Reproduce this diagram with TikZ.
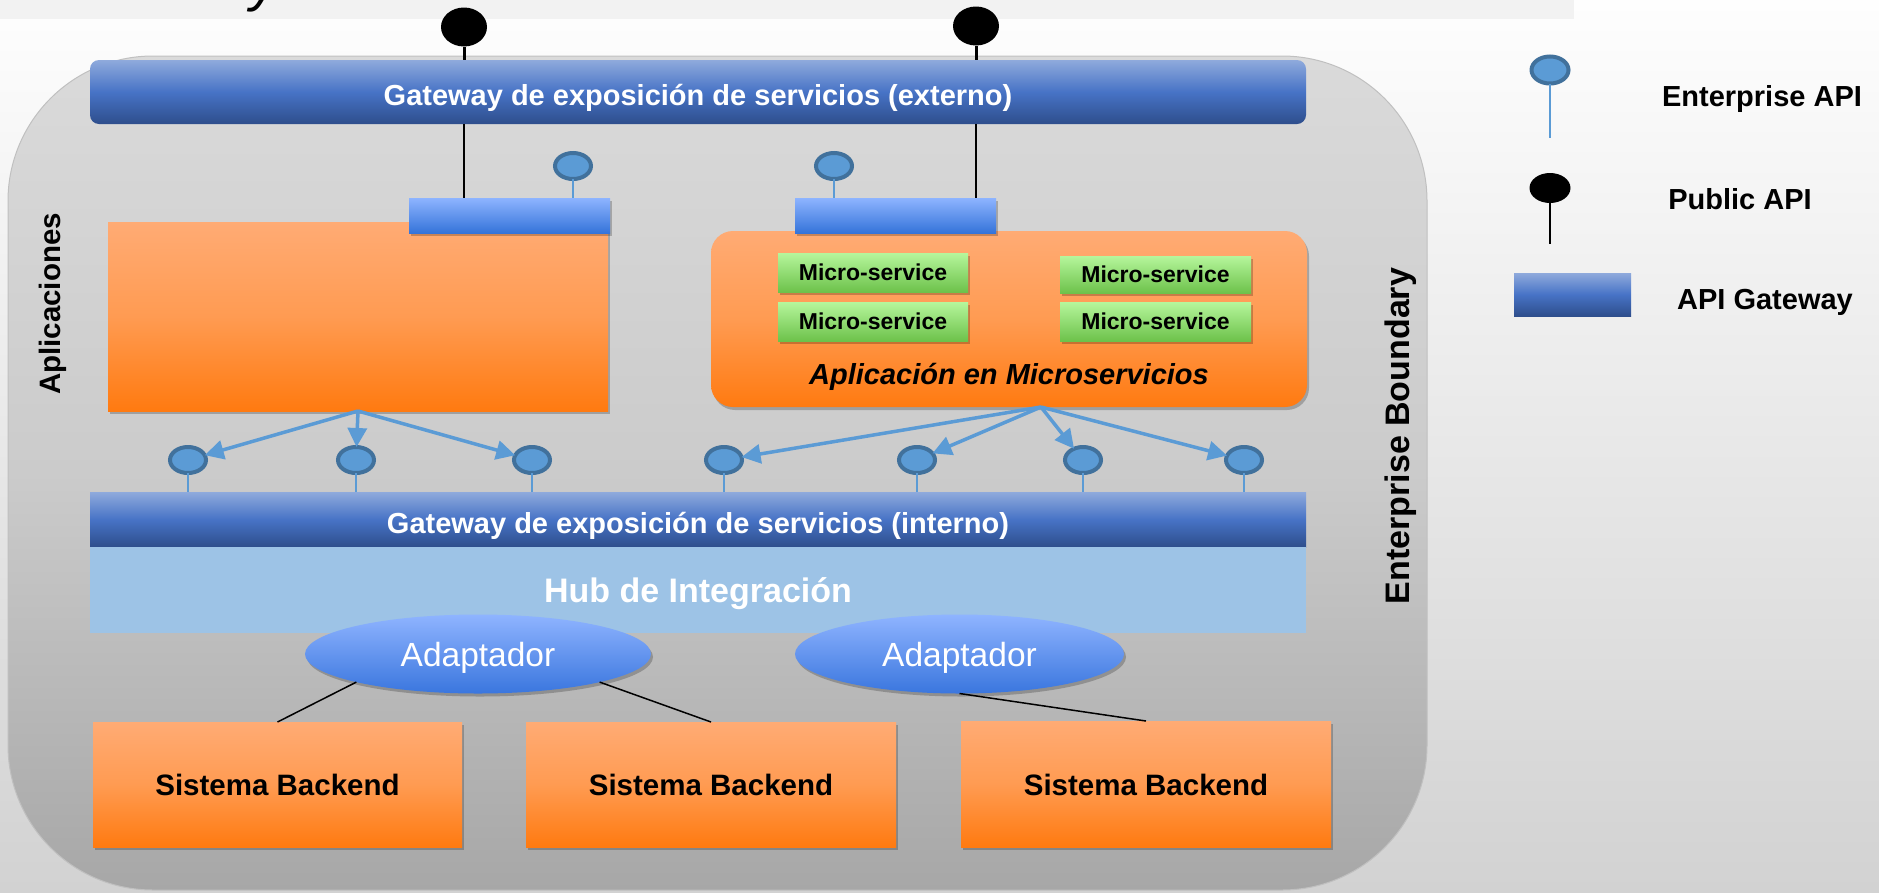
\documentclass[tikz,border=0pt]{standalone}
\usepackage{fontspec}
\setmainfont{Liberation Sans}
\usetikzlibrary{shapes.geometric,shadows,arrows.meta}

\newcommand{\pxfont}[1]{\fontsize{#1pt}{#1pt}\selectfont}

\definecolor{bgtop}{HTML}{FEFEFE}
\definecolor{bgbot}{HTML}{D2D2D2}
\definecolor{stripgray}{HTML}{F2F2F2}
\definecolor{ebtop}{HTML}{DADADA}
\definecolor{ebmid}{HTML}{CBCBCB}
\definecolor{ebbot}{HTML}{A7A7A7}
\definecolor{ebline}{HTML}{C0C0C0}
\definecolor{gwtop}{HTML}{8FAADC}
\definecolor{gwmid}{HTML}{4773C6}
\definecolor{gwbot}{HTML}{2E4E8C}
\definecolor{sgtop}{HTML}{8EB4FF}
\definecolor{sgbot}{HTML}{3574DA}
\definecolor{ortop}{HTML}{FFAB74}
\definecolor{ormid}{HTML}{FF9B52}
\definecolor{orbot}{HTML}{FF7A10}
\definecolor{grtop}{HTML}{B6F69C}
\definecolor{grbot}{HTML}{6DC24B}
\definecolor{adtop}{HTML}{8FB4FF}
\definecolor{adbot}{HTML}{3A76DE}
\definecolor{hubblue}{HTML}{9DC3E6}
\definecolor{apifill}{HTML}{5B9BD5}
\definecolor{apiring}{HTML}{41719C}

\tikzset{
  % text boxes are as tall as the capitals, so capitals sit centred in the node
  capbox/.style={inner sep=0pt, outer sep=0pt, text depth=0pt, align=center},
  softshadow/.style={drop shadow={shadow xshift=2pt, shadow yshift=-3pt, opacity=0.22, fill=black}},
  boundary/.style={capbox, rectangle, rounded corners=145pt, minimum width=1419pt, minimum height=834pt,
    top color=ebtop, bottom color=ebbot, middle color=ebmid, draw=ebline, line width=1pt},
  % gateway captions sit a little below the bar's middle
  gwbar/.style={capbox, minimum width=1216pt, top color=gwtop, bottom color=gwbot, middle color=gwmid,
    text=white, font=\pxfont{29}\bfseries, text height=27.8pt},
  smallgw/.style={capbox, minimum width=201pt, minimum height=35pt, top color=sgtop, bottom color=sgbot, softshadow},
  appbox/.style={capbox, top color=ortop, bottom color=orbot, middle color=ormid, softshadow},
  msbox/.style={capbox, minimum width=190pt, minimum height=39pt, top color=grtop, bottom color=grbot,
    font=\pxfont{23}\bfseries, text height=16.5pt, softshadow},
  backend/.style={appbox, minimum width=370pt, minimum height=125pt, font=\pxfont{29.5}\bfseries,
    text height=22.5pt},
  adapter/.style={capbox, ellipse, minimum height=79pt, top color=adtop, bottom color=adbot,
    text=white, font=\pxfont{33.5}, text height=24pt, softshadow},
  entapi/.style={ellipse, inner sep=0pt, outer sep=0pt, minimum width=36pt, minimum height=26pt,
    fill=apifill, draw=apiring, line width=4pt},
  pubapi/.style={ellipse, inner sep=0pt, outer sep=0pt, fill=black},
  apistem/.style={draw=apifill, line width=1.5pt},
  pubstem/.style={draw=black, line width=3pt},
  wire/.style={draw=black, line width=1.5pt},
  apiarrow/.style={draw=apifill, line width=3.5pt, -{Triangle[length=19pt,width=19pt]}},
  vlabel/.style={capbox, rotate=90},
  legendtext/.style={capbox, anchor=base, font=\pxfont{29}\bfseries},
}

\begin{document}
\begin{tikzpicture}[x=1pt,y=-1pt]
\useasboundingbox (0,0) rectangle (1879,892);
\clip (0,0) rectangle (1879,892);

% slide background and title strip
\fill[top color=bgtop, bottom color=bgbot] (0,0) rectangle (1879,892);
\fill[stripgray] (0,0) rectangle (1574,19);
\node[inner sep=0pt, anchor=base west, font=\pxfont{56}\itshape] (ttl) at (250,0) {y};

% enterprise boundary
\node[boundary] (eb) at (717.5,473) {};
\node[vlabel, font=\pxfont{29.5}\bfseries, text height=21.1pt] (aplic) at (50,304) {Aplicaciones};
\node[vlabel, font=\pxfont{34}\bfseries, text height=24.3pt] (eblabel) at (1397,436) {Enterprise Boundary};

% external gateway and public APIs
\node[gwbar, minimum height=64pt, rounded corners=9pt] (gwext) at (698,92)
  {Gateway de exposición de servicios (externo)};
\node[pubapi, minimum width=46pt, minimum height=39pt] (pub1) at (464,27) {};
\node[pubapi, minimum width=46pt, minimum height=39pt] (pub2) at (976,26) {};
\draw[pubstem] (pub1.south) -- (pub1.south |- gwext.north);
\draw[pubstem] (pub2.south) -- (pub2.south |- gwext.north);

% applications
\node[appbox, minimum width=500pt, minimum height=189pt] (app1) at (358,316.5) {};
\node[appbox, minimum width=596pt, minimum height=176pt, rounded corners=22pt] (app2) at (1009,319) {};
\node[msbox] (ms1) at (873,272.5) {Micro-service};
\node[msbox] (ms2) at (873,321.5) {Micro-service};
\node[msbox, minimum width=191pt, minimum height=37pt] (ms3) at (1155.5,274.5) {Micro-service};
\node[msbox, minimum width=191pt] (ms4) at (1155.5,321.5) {Micro-service};
\node[capbox, font=\pxfont{29}\bfseries\itshape, text height=20.8pt] (app2lbl) at (1009,374)
  {Aplicación en Microservicios};

% application gateways
\node[smallgw] (sg1) at (509.5,215.5) {};
\node[smallgw] (sg2) at (895.5,215.5) {};
\draw[wire] (gwext.south -| pub1) -- (sg1.north -| pub1);
\draw[wire] (gwext.south -| pub2) -- (sg2.north -| pub2);
\node[entapi] (ent1) at (573,166) {};
\node[entapi] (ent2) at (834,166) {};
\draw[apistem] (ent1.south) -- (ent1.south |- sg1.north);
\draw[apistem] (ent2.south) -- (ent2.south |- sg2.north);

% internal gateway and hub
\node[gwbar, minimum height=55pt] (gwint) at (698,519.5)
  {Gateway de exposición de servicios (interno)};
\node[capbox, minimum width=1216pt, minimum height=86pt, fill=hubblue, text=white,
  font=\pxfont{34}\bfseries, text height=24.3pt] (hub) at (698,590) {Hub de Integración};

% enterprise APIs on the internal gateway
\foreach \n/\x in {1/188, 2/356, 3/532, 4/724, 5/917, 6/1083, 7/1244} {
  \node[entapi] (i\n) at (\x,460) {};
  \draw[apistem] (i\n.south) -- (i\n.south |- gwint.north);
}
\coordinate (apex2) at ([xshift=32pt]app2.south);
\foreach \n in {1,2,3} \draw[apiarrow] (app1.south) -- (i\n);
\foreach \n in {4,5,6,7} \draw[apiarrow] (apex2) -- (i\n);

% adapters and backends
\node[adapter, minimum width=346pt] (ad1) at (478,654) {Adaptador};
\node[adapter, minimum width=329pt] (ad2) at (959.5,654) {Adaptador};
\node[backend, minimum width=369pt] (b1) at (277.5,784.5) {Sistema Backend};
\node[backend] (b2) at (711,784.5) {Sistema Backend};
\node[backend, minimum height=126pt] (b3) at (1146,784) {Sistema Backend};
\draw[wire] (ad1.193) -- (b1.north);
\draw[wire] (ad1.347) -- (b2.north);
\draw[wire] (ad2.south) -- (b3.north);

% legend
\node[entapi, minimum width=37pt, minimum height=27pt] (lent) at (1550,70) {};
\coordinate (lentend) at (1550,138);
\draw[apistem] (lent.south) -- (lentend);
\node[legendtext] (lenttxt) at (1762,106) {Enterprise API};
\node[pubapi, minimum width=41pt, minimum height=30pt] (lpub) at (1550,188) {};
\coordinate (lpubend) at (1550,244);
\draw[draw=black, line width=2pt] (lpub.south) -- (lpubend);
\node[legendtext] (lpubtxt) at (1740,209) {Public API};
\node[capbox, minimum width=117pt, minimum height=43pt, top color=gwtop, bottom color=gwbot,
  middle color=gwmid] (lgw) at (1572.5,294.5) {};
\node[legendtext] (lgwtxt) at (1765,309) {API Gateway};
\end{tikzpicture}
\end{document}
